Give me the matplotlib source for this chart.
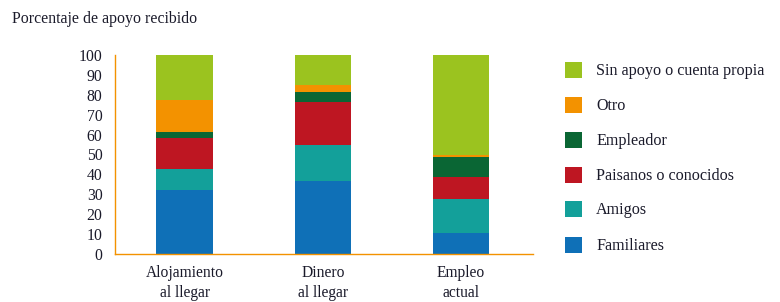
import matplotlib
matplotlib.use("Agg")
import matplotlib.pyplot as plt
from matplotlib.patches import Rectangle

categorias = ["Alojamiento\nal llegar", "Dinero\nal llegar", "Empleo\nactual"]
series = ["Familiares", "Amigos", "Paisanos o conocidos", "Empleador", "Otro",
          "Sin apoyo o cuenta propia"]
familiares = [32.2, 36.7, 10.7]
amigos = [10.5, 18.1, 16.9]
paisanos = [15.7, 21.7, 11.1]
empleador = [3.1, 4.9, 10.0]
otro = [16.0, 3.5, 1.0]
sin_apoyo = [22.5, 15.1, 50.3]
valores = [familiares, amigos, paisanos, empleador, otro, sin_apoyo]
colores = ["#0F70B7", "#13A09A", "#BE1622", "#0A6634", "#F39200", "#9BC31F"]
yticks = list(range(0, 101, 10))

plt.rcParams["font.family"] = ["Liberation Serif", "DejaVu Serif"]
texto = "#1a1a2a"

fig = plt.figure(figsize=(7.8, 3.02), dpi=100)
ax = fig.add_axes([115 / 780, 1 - 254 / 302, 418 / 780, 199 / 302])

x = list(range(len(categorias)))
base = [0] * len(categorias)
for vals, col in zip(valores, colores):
    ax.bar(x, vals, bottom=base, width=0.41, color=col, linewidth=0)
    base = [b + v for b, v in zip(base, vals)]

ax.set_xlim(-0.505, 2.52)
ax.set_ylim(0, 100)
ax.set_yticks(yticks)
ax.set_xticks(x)
ax.set_xticklabels(categorias, fontsize=11.2, color=texto, linespacing=1.3)
ax.tick_params(axis="y", length=0, pad=9, labelsize=11.3, labelcolor=texto)
ax.tick_params(axis="x", length=0, pad=8)
for s in ["top", "right"]:
    ax.spines[s].set_visible(False)
for s in ["left", "bottom"]:
    ax.spines[s].set_color("#F39200")
    ax.spines[s].set_linewidth(1.0)

fig.text(12 / 780, 1 - 19 / 302, "Porcentaje de apoyo recibido", fontsize=11.4,
         color=texto, va="center", ha="left")

# leyenda manual, de arriba hacia abajo
filas_y = [70, 104.5, 139.5, 174.5, 209, 244.5]
for nombre, col, fy in zip(series[::-1], colores[::-1], filas_y):
    fig.add_artist(Rectangle((565 / 780, 1 - (fy + 8) / 302), 17 / 780, 16 / 302,
                             transform=fig.transFigure, color=col, linewidth=0))
    fig.text(596 / 780, 1 - (fy + 1.5) / 302, nombre, fontsize=11.6, color=texto,
             va="center", ha="left")

fig.savefig("out.png", dpi=100)
